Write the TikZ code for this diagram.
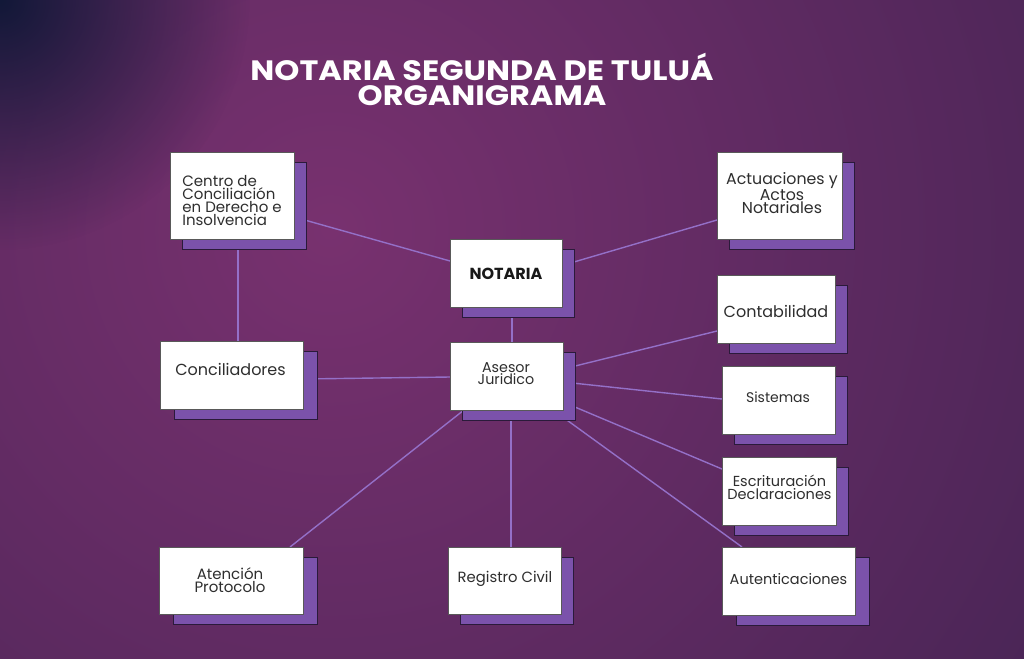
\documentclass[tikz,border=0pt]{standalone}
\usepackage{fontspec}
\setmainfont{Poppins}
\newfontfamily\titlefont[FakeStretch=1.14]{Poppins}
\usetikzlibrary{shadows,calc,fadings}
\definecolor{bgbase}{HTML}{3E2250}
\definecolor{bginner}{HTML}{78316F}
\definecolor{cornerc}{HTML}{121838}
\definecolor{shpurple}{HTML}{7B52AB}
\definecolor{shborder}{HTML}{2A1A3A}
\definecolor{linkc}{HTML}{9470C8}
\definecolor{txtc}{HTML}{2E2E2E}
\tikzfading[name=cornerfade, inner color=transparent!0, outer color=transparent!100]
\pgfdeclarelayer{bg}
\pgfdeclarelayer{links}
\pgfsetlayers{bg,links,main}
\begin{document}
\begin{tikzpicture}[x=1pt,y=-1pt,
  box/.style={draw=black!65, line width=0.6pt, fill=white, anchor=north west, inner sep=0pt,
     general shadow={shadow xshift=#1, shadow yshift=-10pt, fill=shpurple, draw=shborder, line width=0.8pt}},
  box/.default=12pt,
  txt/.style={text=txtc, inner sep=0pt, align=center},
  link/.style={draw=linkc, line width=1.4pt},
  titletxt/.style={text=white, font=\titlefont\fontsize{28}{28}\selectfont\bfseries, anchor=base, inner sep=0pt}]
\useasboundingbox (0,0) rectangle (1024,658);
\begin{pgfonlayer}{bg}
\fill[bgbase] (0,0) rectangle (1024,658);
\begin{scope}
\clip (0,0) rectangle (1024,658);
\shade[inner color=bginner, outer color=bgbase] (330,230) circle[radius=1050pt];
\fill[cornerc, path fading=cornerfade] (0,0) circle[radius=250pt];
\end{scope}
\end{pgfonlayer}

% title
\node[titletxt] (t1) at (482,81) {NOTARIA SEGUNDA DE TULUÁ};
\node[titletxt] (t2) at (482,106) {ORGANIGRAMA};

% boxes
\node[box, minimum width=124pt, minimum height=87pt] (centro) at (170,152) {};
\node[box, minimum width=112pt, minimum height=68pt] (notaria) at (450,239) {};
\node[box, minimum width=113pt, minimum height=68pt] (asesor) at (450,342) {};
\node[box, minimum width=125pt, minimum height=87pt] (actuaciones) at (717,152) {};
\node[box, minimum width=118pt, minimum height=68pt] (contabilidad) at (717,275) {};
\node[box, minimum width=113pt, minimum height=68pt] (sistemas) at (722,366) {};
\node[box, minimum width=114pt, minimum height=68pt] (escrituracion) at (722,457) {};
\node[box=14pt, minimum width=133pt, minimum height=68pt] (autenticaciones) at (722,547) {};
\node[box=14pt, minimum width=143pt, minimum height=68pt] (conciliadores) at (160,341) {};
\node[box=14pt, minimum width=144pt, minimum height=67pt] (atencion) at (159,547) {};
\node[box, minimum width=113pt, minimum height=67pt] (registro) at (448,547) {};

% texts
\node[txt, align=left, font=\fontsize{15}{13}\selectfont] (centro-t) at (232,201) {Centro de\\Conciliación\\en Derecho e\\Insolvencia};
\node[txt, font=\fontsize{16}{16}\selectfont\bfseries, text=black!90] (notaria-t) at (506,274) {NOTARIA};
\node[txt, font=\fontsize{14.3}{12.2}\selectfont] (asesor-t) at (506,374) {Asesor\\Juridico};
\node[txt, font=\fontsize{15.8}{12.6}\selectfont] (actuaciones-t) at (782,193) {Actuaciones y\\Actos\\Notariales};
\node[txt, font=\fontsize{16}{16}\selectfont] (contabilidad-t) at (776,311) {Contabilidad};
\node[txt, font=\fontsize{14}{14}\selectfont] (sistemas-t) at (778,397) {Sistemas};
\node[txt, font=\fontsize{14.5}{13}\selectfont] (escrituracion-t) at (779.5,487) {Escrituración\\Declaraciones};
\node[txt, font=\fontsize{14.5}{14.5}\selectfont] (autenticaciones-t) at (788.5,579) {Autenticaciones};
\node[txt, font=\fontsize{16}{16}\selectfont] (conciliadores-t) at (230.5,369.5) {Conciliadores};
\node[txt, font=\fontsize{15}{13}\selectfont] (atencion-t) at (230,580) {Atención\\Protocolo};
\node[txt, font=\fontsize{14.8}{14.8}\selectfont] (registro-t) at (505,579) {Registro Civil};

% connectors
\begin{pgfonlayer}{links}
\draw[link] ($(centro.north west)+(124,65)$) -- ($(notaria.north west)+(0,22)$);
\draw[link] ($(notaria.north west)+(112,26.5)$) -- ($(actuaciones.north west)+(0,68)$);
\draw[link] ($(centro.north west)+(68,87)$) -- ($(conciliadores.north west)+(78,0)$);
\draw[link] ($(notaria.north west)+(62,68)$) -- ($(asesor.north west)+(62,0)$);
\draw[link] ($(asesor.north west)+(0,35)$) -- ($(conciliadores.north west)+(143,38)$);
\draw[link] ($(asesor.north west)+(113,27)$) -- ($(contabilidad.north west)+(0,56)$);
\draw[link] ($(asesor.north west)+(113,40)$) -- ($(sistemas.north west)+(0,33)$);
\draw[link] ($(asesor.north west)+(113,60)$) -- ($(escrituracion.north west)+(0,12)$);
\draw[link] ($(asesor.north west)+(103,68)$) -- ($(autenticaciones.north west)+(20,0)$);
\draw[link] ($(asesor.north west)+(14,68)$) -- ($(atencion.north west)+(131,0)$);
\draw[link] ($(asesor.north west)+(61,68)$) -- ($(registro.north west)+(63,0)$);
\end{pgfonlayer}
\end{tikzpicture}
\end{document}
